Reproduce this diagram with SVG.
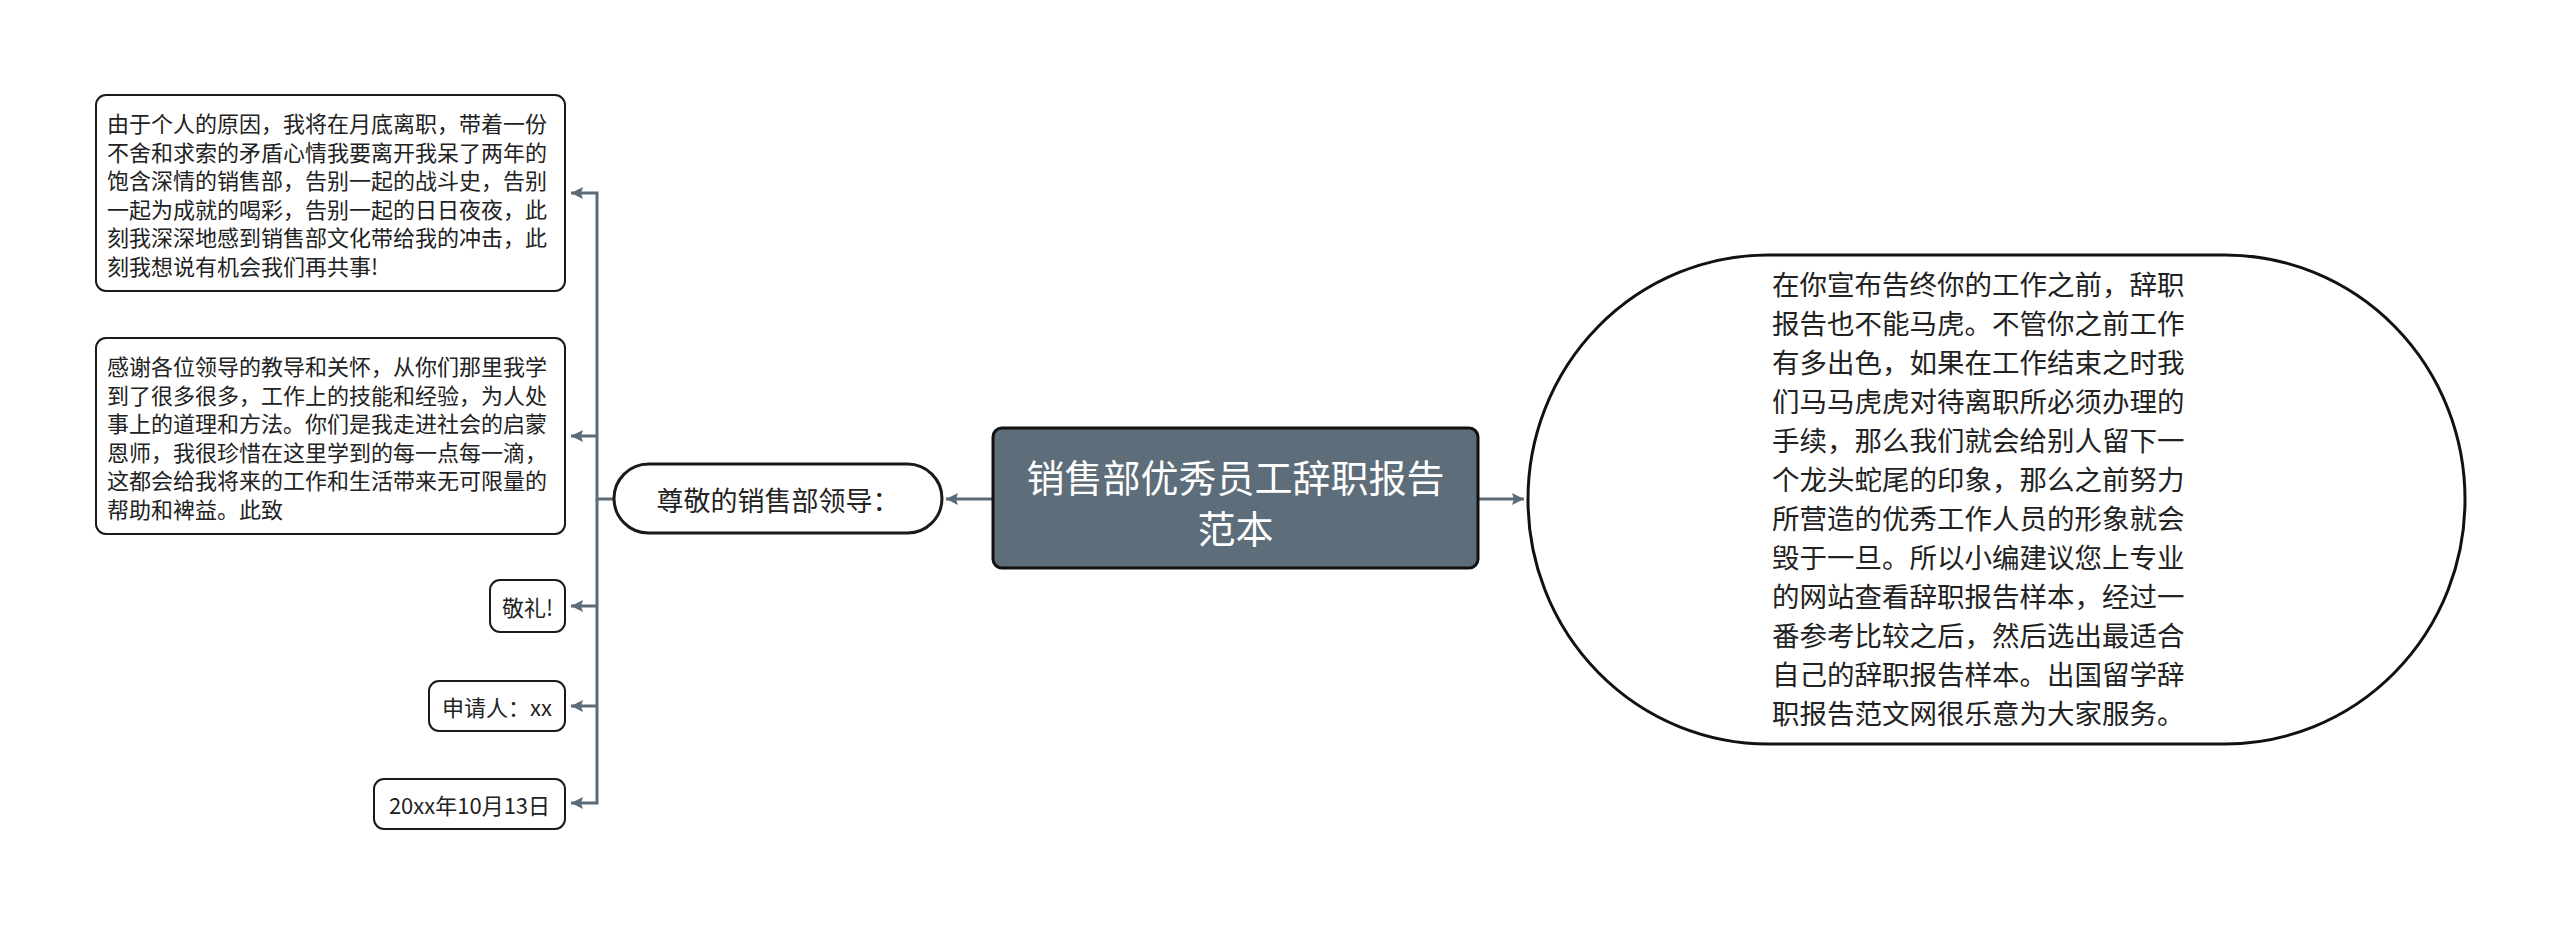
<svg xmlns="http://www.w3.org/2000/svg" width="2560" height="926" viewBox="0 0 2560 926">
<style>
text{font-family:"Noto Sans CJK SC","Microsoft YaHei",sans-serif;fill:#222;dominant-baseline:central}
.box{fill:#fff;stroke:#1a1a1a;stroke-width:2}
.t22{font-size:22px}
.t27{font-size:27.5px}
.conn{fill:none;stroke:#5b6b77;stroke-width:3}
</style>
<defs>
<marker id="arr" markerUnits="userSpaceOnUse" markerWidth="14" markerHeight="14" refX="12" refY="6" orient="auto">
<path d="M0,0 L12,6 L0,12 L2,6 z" fill="#5b6b77"/>
</marker>
</defs>
<rect width="2560" height="926" fill="#fff"/>
<g id="connectors">
<path class="conn" d="M614,499 H597 V193 H571" marker-end="url(#arr)"/>
<path class="conn" d="M597,436 H571" marker-end="url(#arr)"/>
<path class="conn" d="M597,499 V803 H571" marker-end="url(#arr)"/>
<path class="conn" d="M597,606 H571" marker-end="url(#arr)"/>
<path class="conn" d="M597,706 H571" marker-end="url(#arr)"/>
<path class="conn" d="M993,499 H946" marker-end="url(#arr)"/>
<path class="conn" d="M1478,499 H1524" marker-end="url(#arr)"/>
</g>
<g id="center">
<rect x="993" y="428" width="485" height="140" rx="9" fill="#5d6d79" stroke="#111" stroke-width="3"/>
<text x="1235.5" y="475" text-anchor="middle" style="font-size:38px;fill:#fff">销售部优秀员工辞职报告</text>
<text x="1235.5" y="526" text-anchor="middle" style="font-size:38px;fill:#fff">范本</text>
</g>
<g id="greeting">
<rect x="614" y="464" width="328" height="69" rx="34.5" class="box" style="stroke-width:3"/>
<text x="778" y="499" text-anchor="middle" style="font-size:27px">尊敬的销售部领导：</text>
</g>
<g id="box1">
<rect x="96" y="95" width="469" height="196" rx="10" class="box"/>
<text class="t22" x="107" y="122">由于个人的原因，我将在月底离职，带着一份</text>
<text class="t22" x="107" y="150.5">不舍和求索的矛盾心情我要离开我呆了两年的</text>
<text class="t22" x="107" y="179">饱含深情的销售部，告别一起的战斗史，告别</text>
<text class="t22" x="107" y="207.5">一起为成就的喝彩，告别一起的日日夜夜，此</text>
<text class="t22" x="107" y="236">刻我深深地感到销售部文化带给我的冲击，此</text>
<text class="t22" x="107" y="264.5">刻我想说有机会我们再共事!</text>
</g>
<g id="box2">
<rect x="96" y="338" width="469" height="196" rx="10" class="box"/>
<text class="t22" x="107" y="365">感谢各位领导的教导和关怀，从你们那里我学</text>
<text class="t22" x="107" y="393.5">到了很多很多，工作上的技能和经验，为人处</text>
<text class="t22" x="107" y="422">事上的道理和方法。你们是我走进社会的启蒙</text>
<text class="t22" x="107" y="450.5">恩师，我很珍惜在这里学到的每一点每一滴，</text>
<text class="t22" x="107" y="479">这都会给我将来的工作和生活带来无可限量的</text>
<text class="t22" x="107" y="507.5">帮助和裨益。此致</text>
</g>
<g id="box3">
<rect x="490" y="580" width="75" height="52" rx="10" class="box"/>
<text class="t22" x="527.5" y="606" text-anchor="middle">敬礼!</text>
</g>
<g id="box4">
<rect x="429" y="681" width="136" height="50" rx="10" class="box"/>
<text class="t22" x="497" y="706" text-anchor="middle">申请人：xx</text>
</g>
<g id="box5">
<rect x="374" y="779" width="191" height="50" rx="10" class="box"/>
<text class="t22" x="469.5" y="804" text-anchor="middle">20xx年10月13日</text>
</g>
<g id="intro">
<rect x="1528" y="255" width="937" height="489" rx="240" ry="244" fill="#fff" stroke="#111" stroke-width="3"/>
<text class="t27" x="1772" y="283">在你宣布告终你的工作之前，辞职</text>
<text class="t27" x="1772" y="322">报告也不能马虎。不管你之前工作</text>
<text class="t27" x="1772" y="361">有多出色，如果在工作结束之时我</text>
<text class="t27" x="1772" y="400">们马马虎虎对待离职所必须办理的</text>
<text class="t27" x="1772" y="439">手续，那么我们就会给别人留下一</text>
<text class="t27" x="1772" y="478">个龙头蛇尾的印象，那么之前努力</text>
<text class="t27" x="1772" y="517">所营造的优秀工作人员的形象就会</text>
<text class="t27" x="1772" y="556">毁于一旦。所以小编建议您上专业</text>
<text class="t27" x="1772" y="595">的网站查看辞职报告样本，经过一</text>
<text class="t27" x="1772" y="634">番参考比较之后，然后选出最适合</text>
<text class="t27" x="1772" y="673">自己的辞职报告样本。出国留学辞</text>
<text class="t27" x="1772" y="712">职报告范文网很乐意为大家服务。</text>
</g>
</svg>
